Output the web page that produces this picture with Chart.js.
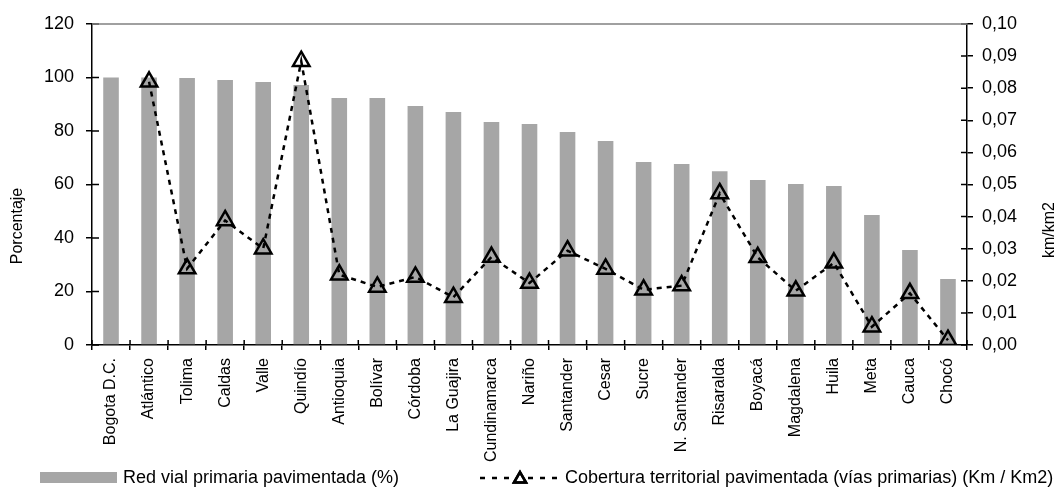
<!DOCTYPE html>
<html lang="es">
<head>
<meta charset="utf-8">
<title>Red vial primaria pavimentada</title>
<script src="https://cdn.jsdelivr.net/npm/chart.js@4/dist/chart.umd.min.js"></script>
<style>
  html, body { margin: 0; background: #fff; }
  #wrap { width: 1064px; height: 487px; position: relative; }
</style>
</head>
<body>
<div id="wrap"><canvas id="chart"></canvas></div>
<script>
const categories = [
  "Bogota D.C.", "Atlántico", "Tolima", "Caldas", "Valle", "Quindío", "Antioquia",
  "Bolívar", "Córdoba", "La Guajira", "Cundinamarca", "Nariño", "Santander", "Cesar",
  "Sucre", "N. Santander", "Risaralda", "Boyacá", "Magdalena", "Huila", "Meta", "Cauca", "Chocó"
];
const redVialPct = [
  100, 100, 99.8, 99.1, 98.3, 97.2, 92.3, 92.3, 89.3, 87.1, 83.4, 82.6,
  79.6, 76.3, 68.4, 67.7, 65.0, 61.7, 60.2, 59.4, 48.6, 35.5, 24.7
];
const coberturaKm = [
  null, 0.082, 0.0238, 0.0388, 0.030, 0.0884, 0.0219, 0.0181, 0.0212, 0.0149, 0.0274, 0.0193,
  0.0294, 0.0237, 0.0172, 0.0185, 0.0472, 0.0273, 0.0169, 0.0256, 0.0057, 0.0161, 0.0015
];
const leftAxis = { max: 120, step: 20, title: "Porcentaje" };
const rightAxis = { max: 0.10, step: 0.01, title: "km/km2" };
const seriesLabels = [
  "Red vial primaria pavimentada (%)",
  "Cobertura territorial pavimentada (vías primarias) (Km / Km2)"
];

const FONT = "'Liberation Sans', Arial, sans-serif";
const BAR_GRAY = "#a6a6a6";

// tick marks that cross the axis (Excel style): Chart.js only draws the outer half
const innerTicks = {
  id: "innerTicks",
  afterDraw(chart) {
    const { ctx, chartArea: a, scales } = chart;
    ctx.save();
    ctx.strokeStyle = "#000";
    ctx.lineWidth = 1.5;
    ctx.beginPath();
    scales.y.ticks.forEach((t, i) => {
      const y = scales.y.getPixelForTick(i);
      ctx.moveTo(a.left, y); ctx.lineTo(a.left + 7, y);
    });
    scales.y2.ticks.forEach((t, i) => {
      const y = scales.y2.getPixelForTick(i);
      ctx.moveTo(a.right, y); ctx.lineTo(a.right - 6, y);
    });
    const n = categories.length;
    for (let i = 0; i <= n; i++) {
      const x = a.left + i * (a.right - a.left) / n;
      ctx.moveTo(x, a.bottom); ctx.lineTo(x, a.bottom - 5);
    }
    ctx.stroke();
    // plot frame top edge
    ctx.strokeStyle = "#808080";
    ctx.beginPath();
    ctx.moveTo(a.left, a.top); ctx.lineTo(a.right, a.top);
    ctx.stroke();
    ctx.restore();
  }
};

const axisTitles = {
  id: "axisTitles",
  afterDraw(chart) {
    const { ctx } = chart;
    ctx.save();
    ctx.fillStyle = "#000";
    ctx.font = "16px " + FONT;
    ctx.textAlign = "center";
    ctx.textBaseline = "middle";
    [[leftAxis.title, 18, 226], [rightAxis.title, 1050, 230]].forEach(([txt, x, y]) => {
      ctx.save();
      ctx.translate(x, y);
      ctx.rotate(-Math.PI / 2);
      ctx.fillText(txt, 0, 0);
      ctx.restore();
    });
    ctx.restore();
  }
};

const bottomLegend = {
  id: "bottomLegend",
  afterDraw(chart) {
    const { ctx } = chart;
    const [bars, line] = chart.data.datasets;
    const y = 478;
    ctx.save();
    ctx.font = "18px " + FONT;
    ctx.textBaseline = "middle";

    ctx.fillStyle = bars.backgroundColor;
    ctx.fillRect(40, y - 6, 77, 11);
    ctx.fillStyle = "#000";
    ctx.fillText(bars.label, 123, y);

    ctx.strokeStyle = line.borderColor;
    ctx.lineWidth = 2.5;
    ctx.setLineDash([5, 7]);
    ctx.beginPath();
    ctx.moveTo(480, y); ctx.lineTo(560, y);
    ctx.stroke();
    ctx.setLineDash([]);
    ctx.fillStyle = "#fff";
    Chart.helpers.drawPoint(ctx, { pointStyle: "triangle", radius: 7, borderWidth: 2.5, rotation: 0 }, 520, y + 1);
    ctx.stroke();
    ctx.fillStyle = "#000";
    ctx.fillText(line.label, 565, y);
    ctx.restore();
  }
};

new Chart(document.getElementById("chart"), {
  data: {
    labels: categories,
    datasets: [
      {
        type: "bar",
        label: seriesLabels[0],
        data: redVialPct,
        backgroundColor: BAR_GRAY,
        yAxisID: "y",
        categoryPercentage: 1,
        barPercentage: 0.41,
        order: 1
      },
      {
        type: "line",
        label: seriesLabels[1],
        data: coberturaKm,
        yAxisID: "y2",
        borderColor: "#000",
        borderWidth: 2.5,
        borderDash: [5, 5],
        pointStyle: "triangle",
        pointRadius: 9.5,
        pointBorderWidth: 2.5,
        pointBorderColor: "#000",
        pointBackgroundColor: "rgba(0,0,0,0)",
        spanGaps: false,
        tension: 0,
        order: 0
      }
    ]
  },
  options: {
    responsive: true,
    maintainAspectRatio: false,
    animation: false,
    layout: { padding: { top: 24, left: 0, right: 0, bottom: 0 } },
    plugins: {
      legend: { display: false },
      tooltip: { enabled: false }
    },
    scales: {
      x: {
        offset: true,
        grid: { offset: true, drawOnChartArea: false, drawTicks: true, tickLength: 5, color: "#000", lineWidth: 1.5 },
        border: { color: "#000", width: 1.5 },
        ticks: { autoSkip: false, minRotation: 90, maxRotation: 90, padding: 8, color: "#000", font: { family: FONT, size: 16 } },
        afterFit: (s) => { s.height = 142; }
      },
      y: {
        position: "left",
        min: 0,
        max: leftAxis.max,
        ticks: { stepSize: leftAxis.step, padding: 12, color: "#000", font: { family: FONT, size: 18 } },
        grid: { drawOnChartArea: false, drawTicks: true, tickLength: 6, color: "#000", lineWidth: 1.5 },
        border: { color: "#000", width: 1.5 },
        afterFit: (s) => { s.width = 92; }
      },
      y2: {
        position: "right",
        min: 0,
        max: rightAxis.max,
        ticks: {
          stepSize: rightAxis.step,
          padding: 9,
          color: "#000",
          font: { family: FONT, size: 18 },
          callback: (v) => Number(v).toFixed(2).replace(".", ",")
        },
        grid: { drawOnChartArea: false, drawTicks: true, tickLength: 6, color: "#000", lineWidth: 1.5 },
        border: { color: "#000", width: 1.5 },
        afterFit: (s) => { s.width = 97; }
      }
    }
  },
  plugins: [innerTicks, axisTitles, bottomLegend]
});
</script>
</body>
</html>
